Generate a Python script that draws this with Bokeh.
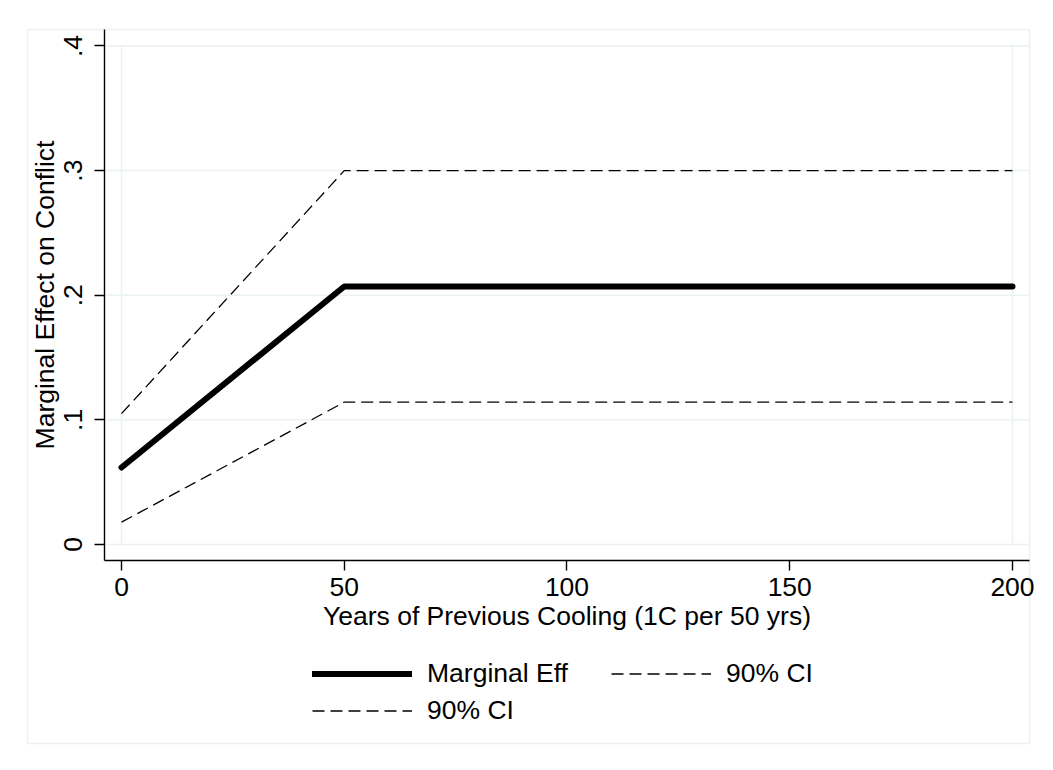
from bokeh.plotting import figure
from bokeh.models import Range1d, FixedTicker, Legend, LegendItem
from bokeh.embed import file_html
from bokeh.resources import INLINE

# ---- data ----
years = [0, 50, 100, 150, 200]
marginal_eff = [0.0618, 0.207, 0.207, 0.207, 0.207]
ci_upper = [0.105, 0.300, 0.300, 0.300, 0.300]
ci_lower = [0.0179, 0.1142, 0.1142, 0.1142, 0.1142]
x_ticks = [0, 50, 100, 150, 200]
y_ticks = [0, 0.1, 0.2, 0.3, 0.4]
y_tick_labels = ["0", ".1", ".2", ".3", ".4"]
x_title = "Years of Previous Cooling (1C per 50 yrs)"
y_title = "Marginal Effect on Conflict"
legend_labels = ["Marginal Eff", "90% CI", "90% CI"]

# ---- layout / style ----
FONT = "Liberation Sans"
GRID = "#eaf2f3"
FS = "26.5px"
W, H = 1053, 770
# visible ranges of the frame (slightly larger than the graph-region box)
X0, X1 = -22.222, 207.41
Y0, Y1 = -0.16369, 0.41725
# graph-region box
BX0, BX1 = -21.10, 203.82
BY0, BY1 = -0.15968, 0.41324
# where the axes sit (plot region)
AX_X = -3.816
AX_Y = -0.01284

p = figure(width=W, height=H, output_backend="svg", toolbar_location=None,
           x_range=Range1d(X0, X1), y_range=Range1d(Y0, Y1),
           min_border_left=22, min_border_right=8, min_border_top=24,
           min_border_bottom=22)
p.styles = {"outline": "1.5px solid " + GRID, "outline-offset": "-2px"}
p.outline_line_color = None
p.background_fill_color = "white"
p.border_fill_color = "white"

for ax in (p.xaxis, p.yaxis):
    ax.axis_line_color = "black"
    ax.axis_line_width = 1.4
    ax.major_tick_line_color = "black"
    ax.major_tick_line_width = 1.4
    ax.major_tick_out = 10
    ax.major_tick_in = 0
    ax.minor_tick_line_color = None
    ax.major_label_text_font = FONT
    ax.major_label_text_font_size = FS
    ax.major_label_text_color = "black"
    ax.axis_label_text_font = FONT
    ax.axis_label_text_font_size = FS
    ax.axis_label_text_font_style = "normal"
    ax.axis_label_text_color = "black"

p.xaxis.fixed_location = AX_Y
p.yaxis.fixed_location = AX_X
p.xaxis.bounds = (AX_X, BX1)
p.yaxis.bounds = (AX_Y, BY1)
p.xaxis.ticker = FixedTicker(ticks=x_ticks)
p.yaxis.ticker = FixedTicker(ticks=y_ticks)
p.yaxis.major_label_overrides = {t: l for t, l in zip(y_ticks, y_tick_labels)}
p.yaxis.major_label_orientation = "vertical"
p.xaxis.axis_label = x_title
p.yaxis.axis_label = y_title
p.xaxis.major_label_standoff = 7
p.xaxis.axis_label_standoff = 2
p.yaxis.major_label_standoff = 12
p.yaxis.axis_label_standoff = 2

# graph-region box
p.quad(left=[BX0], right=[BX1], bottom=[BY0], top=[BY1], fill_alpha=0,
       line_color=GRID, line_width=1.5)

# grid lines (plot region only)
p.xgrid.visible = False
p.ygrid.visible = False
p.segment(x0=[AX_X] * len(y_ticks), y0=y_ticks, x1=[BX1] * len(y_ticks),
          y1=y_ticks, line_color=GRID, line_width=1.5)
p.segment(x0=[x_ticks[0], x_ticks[-1]], y0=[y_ticks[0]] * 2,
          x1=[x_ticks[0], x_ticks[-1]], y1=[y_ticks[-1]] * 2,
          line_color=GRID, line_width=1.5)

# series
r_me = p.line(years, marginal_eff, line_color="black", line_width=6,
              line_cap="round")
r_up = p.line(years, ci_upper, line_color="black", line_width=1.3,
              line_dash="12 6")
r_lo = p.line(years, ci_lower, line_color="black", line_width=1.3,
              line_dash="12 6")

legend = Legend(items=[LegendItem(label=legend_labels[0], renderers=[r_me]),
                       LegendItem(label=legend_labels[1], renderers=[r_up]),
                       LegendItem(label=legend_labels[2], renderers=[r_lo])],
                orientation="horizontal", ncols=2,
                location=(290, 19),
                glyph_width=100, glyph_height=37, label_height=37,
                label_width=184, label_standoff=15, spacing=0, padding=0,
                margin=0, border_line_alpha=0, background_fill_alpha=0,
                label_text_font=FONT, label_text_font_size=FS,
                label_text_color="black")
p.add_layout(legend, "center")

open("out.html", "w").write(file_html(p, INLINE))
